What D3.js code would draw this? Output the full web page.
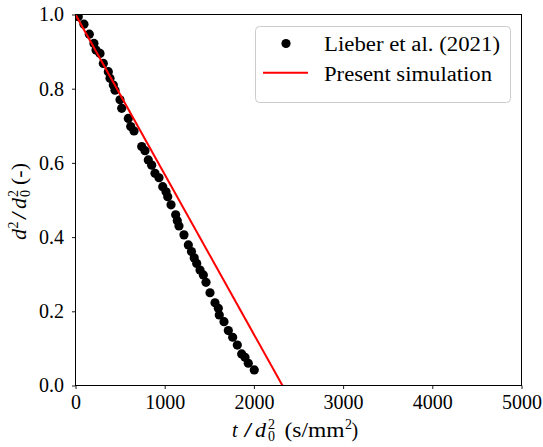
<!DOCTYPE html>
<html><head><meta charset="utf-8">
<script src="https://cdn.jsdelivr.net/npm/d3@7"></script>
<style>
body{margin:0;background:#fff;}
svg{display:block;}
svg text{font-family:"Liberation Serif","Times New Roman",serif !important;}
</style></head>
<body>
<script>
const expT = [31,95,155,207,230,275,312,368,387,424,443,499,518,592,619,656,742,779,816,854,891,936,978,1015,1034,1071,1123,1141,1160,1216,1265,1300,1331,1359,1396,1433,1463,1508,1564,1601,1612,1665,1713,1762,1814,1863,1900,1937,2004];
const expV = [0.994,0.974,0.947,0.922,0.904,0.895,0.868,0.846,0.828,0.810,0.796,0.770,0.747,0.720,0.698,0.686,0.644,0.633,0.608,0.594,0.572,0.560,0.536,0.522,0.509,0.487,0.460,0.444,0.430,0.406,0.379,0.361,0.344,0.329,0.311,0.298,0.278,0.250,0.223,0.208,0.190,0.172,0.148,0.130,0.109,0.085,0.076,0.060,0.042];
const simT = [0, 2320];
const simV = [1.0, 0.0];
const xTicks = [0,1000,2000,3000,4000,5000];
const yTicks = [0.0,0.2,0.4,0.6,0.8,1.0];
const legendLabels = ["Lieber et al. (2021)","Present simulation"];

const W=543,H=447;
const svg=d3.select("body").append("svg").attr("width",W).attr("height",H);
const x=d3.scaleLinear().domain([0,5000]).range([75.5,521.5]);
const y=d3.scaleLinear().domain([0,1]).range([385.5,14.5]);

svg.append("clipPath").attr("id","clip").append("rect")
  .attr("x",75.5).attr("y",14.5).attr("width",446).attr("height",371);

const g=svg.append("g").attr("clip-path","url(#clip)");
g.selectAll("circle").data(expT.map((t,i)=>[t,expV[i]])).enter().append("circle")
  .attr("cx",d=>x(d[0])).attr("cy",d=>y(d[1])).attr("r",4.6).attr("fill","#000");
g.append("path").datum(simT.map((t,i)=>[t,simV[i]]))
  .attr("d",d3.line().x(d=>x(d[0])).y(d=>y(d[1])))
  .attr("stroke","#ff0000").attr("stroke-width",2).attr("fill","none");

const fs=20;
const xa=svg.append("g").attr("transform","translate(0,385.5)")
  .call(d3.axisBottom(x).tickValues(xTicks).tickFormat(d3.format("d")).tickSize(3.5).tickPadding(6).tickSizeOuter(0));
const ya=svg.append("g").attr("transform","translate(75.5,0)")
  .call(d3.axisLeft(y).tickValues(yTicks).tickFormat(d3.format(".1f")).tickSize(3.5).tickPadding(8).tickSizeOuter(0));
[xa,ya].forEach(a=>{
  a.attr("font-family",null).attr("font-size",null);
  a.selectAll("text").attr("font-size",fs).attr("fill","#000");
  a.selectAll("line").attr("stroke","#000").attr("stroke-width",0.9);
  a.select(".domain").remove();
});
svg.append("rect").attr("x",75.5).attr("y",14.5).attr("width",446).attr("height",371)
  .attr("fill","none").attr("stroke","#000").attr("stroke-width",1);

// helper: place label pieces [text, x, y, size, italic, textLength]
function pieces(parent, list){
  list.forEach(p=>{
    const t=parent.append("text").attr("x",p[1]).attr("y",p[2]).attr("font-size",p[3]).attr("fill","#000").text(p[0]);
    if(p[4]) t.attr("font-style","italic");
    if(p[5]) t.attr("textLength",p[5]).attr("lengthAdjust","spacingAndGlyphs");
  });
}
// x label
pieces(svg,[
  ["t",232,437,20,true],
  ["/",243.5,437,20,false,9],
  ["d",255,437,20,true,11],
  ["2",268,429,14,false],
  ["0",268,441,14,false],
  ["(s/mm",284.5,437,20,false,60],
  ["2",345,429,14,false],
  [")",351.5,437,20,false]
]);
// y label (rotated)
const yl=svg.append("g").attr("transform","translate(26,201) rotate(-90)");
pieces(yl,[
  ["d",-39,0,20,true,11],
  ["2",-27.5,-8,14,false],
  ["/",-19,0,20,false,9],
  ["d",-8,0,20,true,11],
  ["2",4,-8,14,false],
  ["0",4,4,14,false],
  ["(-)",16,0,20,false,22]
]);

// legend
const lg=svg.append("g");
lg.append("rect").attr("x",255.5).attr("y",26.5).attr("width",255).attr("height",76).attr("rx",4)
  .attr("fill","#fff").attr("fill-opacity",0.8).attr("stroke","#cccccc").attr("stroke-width",1);
lg.append("circle").attr("cx",286).attr("cy",43.5).attr("r",4.6).attr("fill","#000");
lg.append("line").attr("x1",263).attr("x2",308).attr("y1",72.7).attr("y2",72.7).attr("stroke","#ff0000").attr("stroke-width",2);
lg.append("text").attr("x",324).attr("y",51).attr("font-size",fs).attr("textLength",176).attr("lengthAdjust","spacingAndGlyphs").text(legendLabels[0]);
lg.append("text").attr("x",324).attr("y",80.5).attr("font-size",fs).attr("textLength",168).attr("lengthAdjust","spacingAndGlyphs").text(legendLabels[1]);
</script>
</body></html>
